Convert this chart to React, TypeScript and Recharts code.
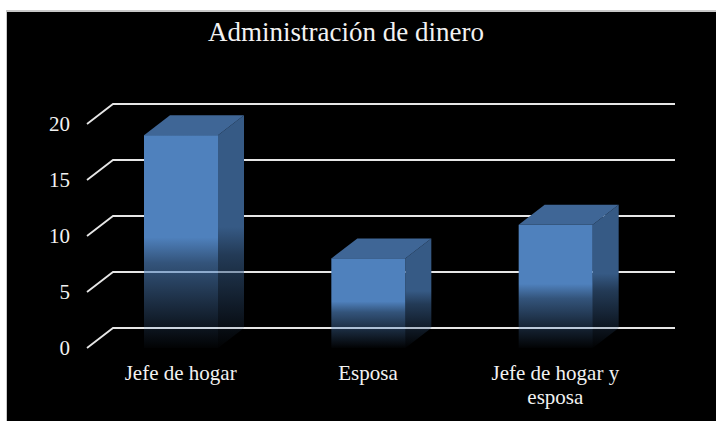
import { BarChart, Bar, XAxis, YAxis, CartesianGrid } from 'recharts';

const categories = ['Jefe de hogar', 'Esposa', 'Jefe de hogar y esposa'];
const values = [19, 8, 11];
const yTicks = [0, 5, 10, 15, 20];

const data = categories.map((name, i) => ({ name, value: values[i] }));

const DX = 26;
const DY = -20;
const FONT = '"Liberation Serif", "Times New Roman", serif';

// 3D-looking box: front face + top + right side, bottom fades out
function Box3D(props: any) {
  const { x, y, width: w, height: h, index } = props;
  if (h == null || w == null) return null;
  const fid = `front-${index}`;
  const sid = `side-${index}`;
  return (
    <g>
      <defs>
        <linearGradient id={fid} x1="0" y1="0" x2="0" y2="1">
          <stop offset="0" stopColor="#4F81BD" stopOpacity={1} />
          <stop offset="0.48" stopColor="#4F81BD" stopOpacity={1} />
          <stop offset="0.6" stopColor="#4F81BD" stopOpacity={0.65} />
          <stop offset="0.82" stopColor="#4F81BD" stopOpacity={0.3} />
          <stop offset="1" stopColor="#4F81BD" stopOpacity={0.02} />
        </linearGradient>
        <linearGradient id={sid} x1="0" y1="0" x2="0" y2="1">
          <stop offset="0" stopColor="#365A85" stopOpacity={1} />
          <stop offset="0.48" stopColor="#365A85" stopOpacity={1} />
          <stop offset="0.6" stopColor="#365A85" stopOpacity={0.65} />
          <stop offset="0.82" stopColor="#365A85" stopOpacity={0.3} />
          <stop offset="1" stopColor="#365A85" stopOpacity={0.02} />
        </linearGradient>
      </defs>
      <polygon
        points={`${x + w},${y} ${x + w + DX},${y + DY} ${x + w + DX},${y + h + DY} ${x + w},${y + h}`}
        fill={`url(#${sid})`}
      />
      <polygon
        points={`${x},${y} ${x + DX},${y + DY} ${x + w + DX},${y + DY} ${x + w},${y}`}
        fill="#3F6696"
      />
      <rect x={x} y={y} width={w} height={h} fill={`url(#${fid})`} />
    </g>
  );
}

// gridline: diagonal up the side wall, then across the back wall
function gridLine(p: any) {
  const { x1, y1, x2 } = p;
  return (
    <path
      key={`g-${y1}`}
      d={`M${x1},${y1} L${x1 + DX},${y1 + DY} L${x2 + DX},${y1 + DY}`}
      stroke="#e6e6e6"
      strokeWidth={1.8}
      fill="none"
    />
  );
}

// simple word wrap, ~15 chars per line
function wrap(label: string, max = 15) {
  const lines: string[] = [];
  let cur = '';
  for (const word of label.split(' ')) {
    const next = cur ? `${cur} ${word}` : word;
    if (next.length > max && cur) {
      lines.push(cur);
      cur = word;
    } else {
      cur = next;
    }
  }
  if (cur) lines.push(cur);
  return lines;
}

function CategoryTick(props: any) {
  const { x, y, payload } = props;
  const lines = wrap(String(payload.value));
  return (
    <text
      x={x}
      y={y}
      textAnchor="middle"
      fill="#f2f2f2"
      style={{ fontFamily: FONT, fontSize: 21 }}
    >
      {lines.map((ln, i) => (
        <tspan key={i} x={x} dy={i === 0 ? 15 : 24}>
          {ln}
        </tspan>
      ))}
    </text>
  );
}

export default function App() {
  return (
    <div style={{ position: 'fixed', left: 0, top: 0, width: 716, height: 421, background: '#fff', overflow: 'hidden' }}>
      <div
        style={{
          position: 'absolute',
          left: 6,
          top: 10,
          width: 720,
          height: 430,
          background: '#000',
          borderLeft: '1px solid #c8c8c8',
          borderTop: '2px solid #c8c8c8',
        }}
      />
      <div
        style={{
          position: 'absolute',
          left: 0,
          top: 19,
          width: 692,
          textAlign: 'center',
          fontFamily: FONT,
          fontSize: 27,
          lineHeight: 1,
          color: '#f2f2f2',
          whiteSpace: 'nowrap',
        }}
      >
        Administración de dinero
      </div>
      <div style={{ position: 'absolute', left: 0, top: 0 }}>
        <BarChart
          width={716}
          height={421}
          data={data}
          margin={{ top: 124, right: 67, bottom: 43, left: 47 }}
        >
          <CartesianGrid vertical={false} horizontal={gridLine} />
          <YAxis
            width={40}
            domain={[0, 20]}
            ticks={yTicks}
            axisLine={false}
            tickLine={false}
            tickMargin={11}
            tick={{ fill: '#f2f2f2', fontSize: 21, fontFamily: FONT }}
          />
          <XAxis
            dataKey="name"
            height={30}
            axisLine={false}
            tickLine={false}
            interval={0}
            tick={<CategoryTick />}
            tickMargin={11}
          />
          <Bar dataKey="value" barSize={74} shape={<Box3D />} isAnimationActive={false} />
        </BarChart>
      </div>
    </div>
  );
}
